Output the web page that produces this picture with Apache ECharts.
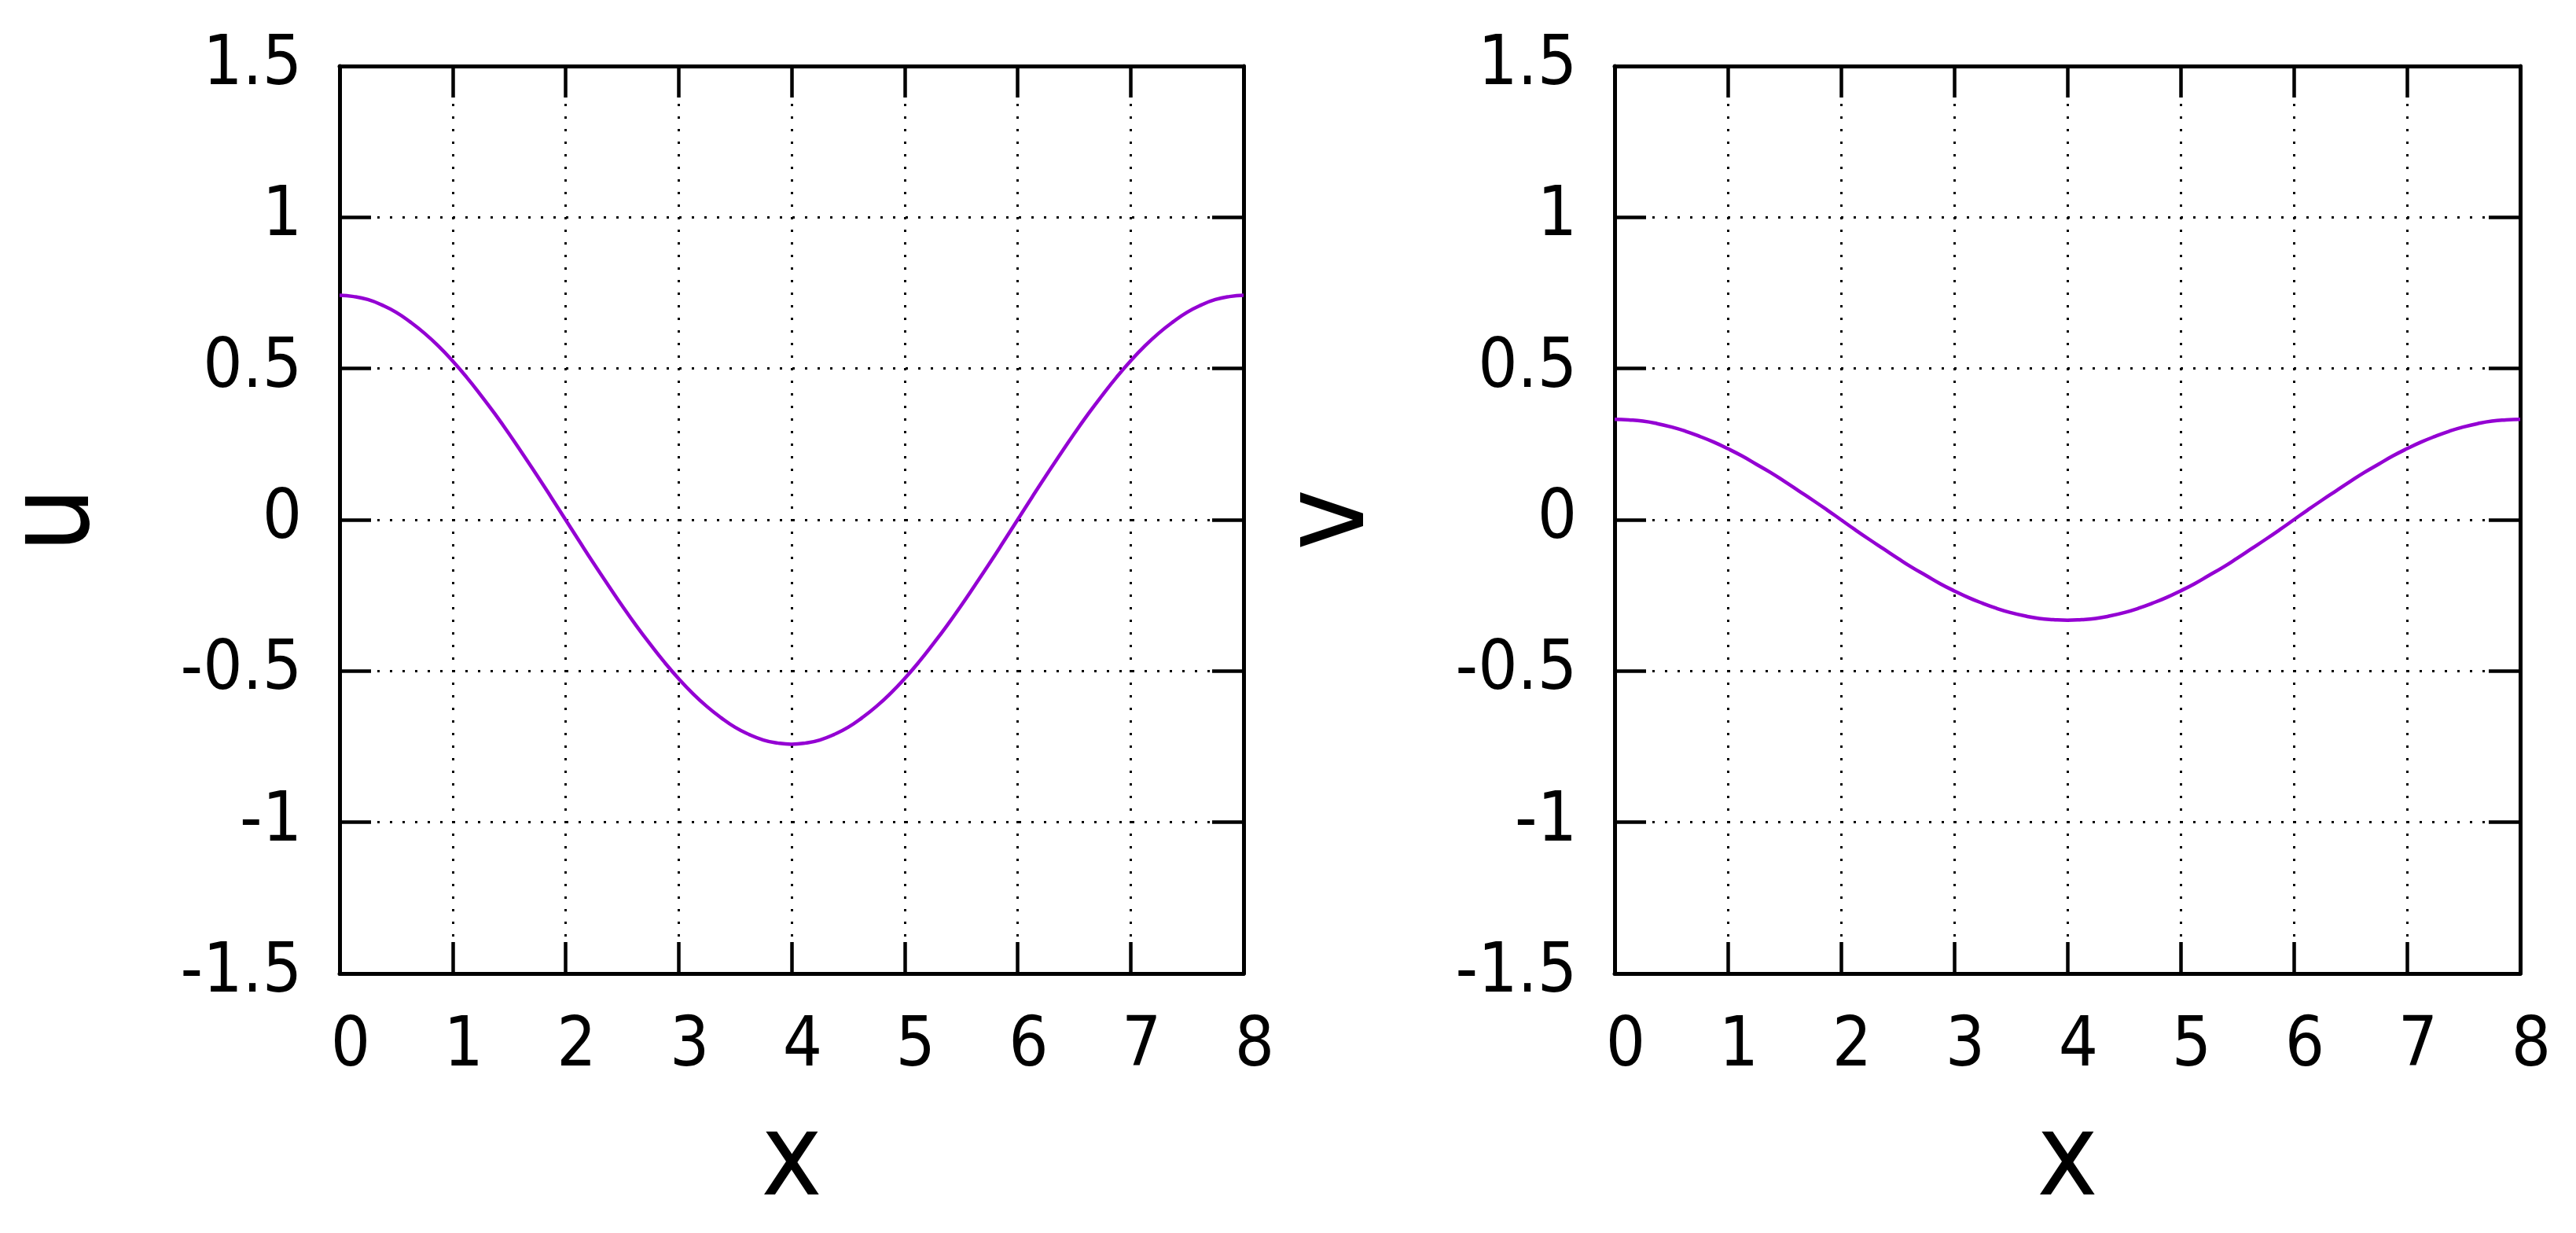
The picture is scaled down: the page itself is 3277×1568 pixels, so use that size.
<!DOCTYPE html>
<html>
<head>
<meta charset="utf-8">
<script src="https://cdn.jsdelivr.net/npm/echarts@6/dist/echarts.min.js"></script>
<style>
html,body{margin:0;padding:0;background:#fff;}
#c{width:3277px;height:1568px;}
</style>
</head>
<body>
<div id="c"></div>
<script>
// Data
const xValues = [0,0.125,0.25,0.375,0.5,0.625,0.75,0.875,1,1.125,1.25,1.375,1.5,1.625,1.75,1.875,2,
  2.125,2.25,2.375,2.5,2.625,2.75,2.875,3,3.125,3.25,3.375,3.5,3.625,3.75,3.875,4,
  4.125,4.25,4.375,4.5,4.625,4.75,4.875,5,5.125,5.25,5.375,5.5,5.625,5.75,5.875,6,
  6.125,6.25,6.375,6.5,6.625,6.75,6.875,7,7.125,7.25,7.375,7.5,7.625,7.75,7.875,8];
const uValues = [0.742,0.738,0.728,0.710,0.686,0.654,0.617,0.574,0.525,0.471,0.412,0.350,0.284,0.215,0.145,0.073,0,
  -0.073,-0.145,-0.215,-0.284,-0.350,-0.412,-0.471,-0.525,-0.574,-0.617,-0.654,-0.686,-0.710,-0.728,-0.738,-0.742,
  -0.738,-0.728,-0.710,-0.686,-0.654,-0.617,-0.574,-0.525,-0.471,-0.412,-0.350,-0.284,-0.215,-0.145,-0.073,0,
  0.073,0.145,0.215,0.284,0.350,0.412,0.471,0.525,0.574,0.617,0.654,0.686,0.710,0.728,0.738,0.742];
const vValues = [0.332,0.330,0.326,0.318,0.307,0.293,0.276,0.257,0.235,0.211,0.184,0.157,0.127,0.096,0.065,0.033,0,
  -0.033,-0.065,-0.096,-0.127,-0.157,-0.184,-0.211,-0.235,-0.257,-0.276,-0.293,-0.307,-0.318,-0.326,-0.330,-0.332,
  -0.330,-0.326,-0.318,-0.307,-0.293,-0.276,-0.257,-0.235,-0.211,-0.184,-0.157,-0.127,-0.096,-0.065,-0.033,0,
  0.033,0.065,0.096,0.127,0.157,0.184,0.211,0.235,0.257,0.276,0.293,0.307,0.318,0.326,0.330,0.332];
const xTicks = [0,1,2,3,4,5,6,7,8];
const yTicks = [-1.5,-1,-0.5,0,0.5,1,1.5];
const xName = 'x';
const yNames = ['u','v'];

const FONT = '"DejaVu Sans Condensed", "DejaVu Sans", sans-serif';
const COLOR = '#9400D3';
const xMin = xTicks[0], xMax = xTicks[xTicks.length-1], xInt = xTicks[1]-xTicks[0];
const yMin = yTicks[0], yMax = yTicks[yTicks.length-1], yInt = yTicks[1]-yTicks[0];

const axisLine = {show:true, onZero:false, lineStyle:{color:'#000', width:5}};
const tick = {show:true, inside:true, length:40, lineStyle:{color:'#000', width:4.5}};
const split = {show:true, lineStyle:{color:'#000', width:3, type:[3,13]}};

const grids = [
  {left:426, right:1695, top:84, bottom:330},
  {left:2054, right:71, top:84, bottom:330}
];
const xAxes = [], yAxes = [], series = [];
const dataSets = [uValues, vValues];
grids.forEach((g, i) => {
  xAxes.push({
    type:'value', gridIndex:i, position:'bottom', min:xMin, max:xMax, interval:xInt,
    axisLine, axisTick:tick, splitLine:split,
    axisLabel:{show:true, margin:50, fontSize:88, fontFamily:FONT, color:'#000', padding:[0,0,0,28], showMinLabel:true, showMaxLabel:true},
    name:xName, nameLocation:'middle', nameGap:170,
    nameTextStyle:{fontSize:146, fontFamily:FONT, color:'#000'}
  });
  xAxes.push({
    type:'value', gridIndex:i, position:'top', min:xMin, max:xMax, interval:xInt,
    axisLine, axisTick:tick, splitLine:{show:false}, axisLabel:{show:false}
  });
  yAxes.push({
    type:'value', gridIndex:i, position:'left', min:yMin, max:yMax, interval:yInt,
    axisLine, axisTick:tick, splitLine:split,
    axisLabel:{show:true, margin:48, fontSize:88, fontFamily:FONT, color:'#000', padding:[0,0,18,0], showMinLabel:true, showMaxLabel:true},
    name:yNames[i], nameLocation:'middle', nameGap:285,
    nameTextStyle:{fontSize:146, fontFamily:FONT, color:'#000'}
  });
  yAxes.push({
    type:'value', gridIndex:i, position:'right', min:yMin, max:yMax, interval:yInt,
    axisLine, axisTick:tick, splitLine:{show:false}, axisLabel:{show:false}
  });
  series.push({
    type:'line', xAxisIndex:i*2, yAxisIndex:i*2, showSymbol:false, smooth:true,
    lineStyle:{color:COLOR, width:4.5}, z:1,
    data: xValues.map((x, k) => [x, dataSets[i][k]])
  });
});

const chart = echarts.init(document.getElementById('c'), null, {renderer:'canvas'});
chart.setOption({
  animation:false,
  backgroundColor:'#fff',
  grid:grids,
  xAxis:xAxes,
  yAxis:yAxes,
  series
});
</script>
</body>
</html>
